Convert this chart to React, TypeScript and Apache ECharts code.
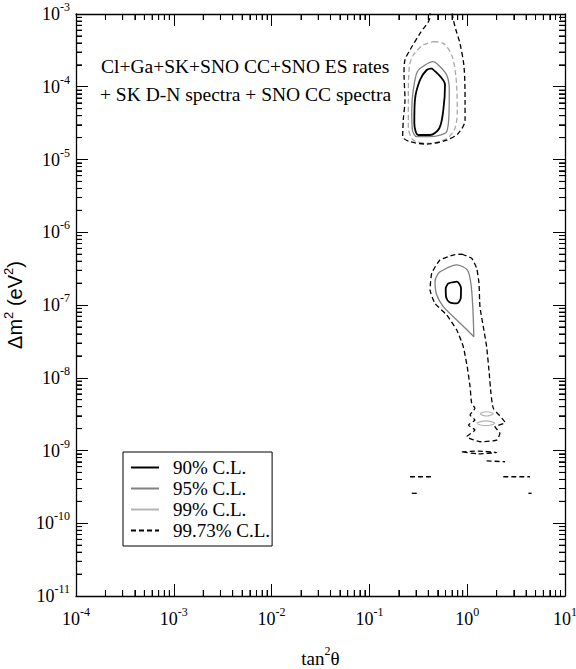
import React, { useEffect, useRef } from "react";
import * as echarts from "echarts";

// axis ranges
const X_MIN = 1e-4;
const X_MAX = 10;
const Y_MIN = 1e-11;
const Y_MAX = 1e-3;
const X_DECADES = [-4, -3, -2, -1, 0];
const Y_DECADES = [-11, -10, -9, -8, -7, -6, -5, -4];

const NAME90 = "90% C.L.";
const NAME95 = "95% C.L.";
const NAME99 = "99% C.L.";
const NAME9973 = "99.73% C.L.";

// contours: [tan^2 theta, dm^2 (eV^2)]
const cl90Upper = [[0.434,1.79e-4],[0.593,1.06e-4],[0.570,4.79e-5],[0.519,2.69e-5],[0.417,2.17e-5],[0.316,2.17e-5],[0.288,3.15e-5],[0.292,6.58e-5],[0.329,1.24e-4],[0.385,1.70e-4],[0.434,1.79e-4]];
const cl95Upper = [[0.371,1.99e-4],[0.444,2.21e-4],[0.507,1.99e-4],[0.617,1.45e-4],[0.656,9.02e-5],[0.652,4.32e-5],[0.617,2.41e-5],[0.527,2.17e-5],[0.417,2.06e-5],[0.305,2.06e-5],[0.275,2.55e-5],[0.271,4.79e-5],[0.281,9.02e-5],[0.309,1.61e-4],[0.371,1.99e-4]];
const cl99UpperDashed = [[0.450,4.16e-4],[0.570,3.95e-4],[0.694,2.73e-4],[0.767,1.37e-4],[0.792,4.79e-5],[0.750,2.69e-5],[0.617,1.95e-5],[0.417,1.67e-5],[0.281,1.85e-5],[0.250,2.82e-5],[0.250,6.58e-5],[0.256,1.89e-4],[0.281,2.73e-4],[0.356,3.75e-4],[0.450,4.16e-4]];
const cl9973Upper = [[0.417,1.13e-3],[0.417,9.18e-4],[0.329,5.43e-4],[0.260,3.20e-4],[0.231,2.33e-4],[0.226,1.53e-4],[0.231,6.58e-5],[0.222,3.49e-5],[0.219,2.06e-5],[0.260,1.76e-5],[0.385,1.63e-5],[0.617,1.85e-5],[0.811,2.29e-5],[0.951,3.49e-5],[0.951,6.58e-5],[0.927,1.89e-4],[0.843,3.95e-4],[0.767,6.03e-4],[0.711,9.18e-4],[0.700,1.13e-3]];

const cl90Lower = [[0.641,1.99e-7],[0.782,2.09e-7],[0.865,1.70e-7],[0.859,1.24e-7],[0.782,1.05e-7],[0.667,1.08e-7],[0.607,1.30e-7],[0.603,1.70e-7],[0.641,1.99e-7]];
const cl95Lower = [[0.570,3.03e-7],[0.782,3.55e-7],[1.00,3.03e-7],[1.09,1.99e-7],[1.14,9.48e-8],[1.17,3.67e-8],[1.00,4.53e-8],[0.782,6.22e-8],[0.570,9.48e-8],[0.488,1.37e-7],[0.469,2.09e-7],[0.507,2.73e-7],[0.570,3.03e-7]];
const cl99LowerA = [[1.35,3.2e-9],[1.45,3.36e-9],[1.58,3.41e-9],[1.72,3.36e-9],[1.85,3.2e-9],[1.72,3.04e-9],[1.58,2.98e-9],[1.45,3.04e-9],[1.35,3.2e-9]];
const cl99LowerB = [[1.25,2.37e-9],[1.37,2.5e-9],[1.55,2.55e-9],[1.75,2.5e-9],[1.91,2.37e-9],[1.75,2.24e-9],[1.55,2.2e-9],[1.37,2.24e-9],[1.25,2.37e-9]];
const cl9973Lower = [[0.879,5.02e-7],[1.11,4.38e-7],[1.25,3.19e-7],[1.32,1.99e-7],[1.35,9.48e-8],[1.46,5.03e-8],[1.58,2.67e-8],[1.68,1.15e-8],[1.75,6.11e-9],[1.85,3.80e-9],[2.44,2.41e-9],[1.92,2.12e-9],[2.16,1.72e-9],[2.00,1.39e-9],[1.35,1.32e-9],[0.99,1.55e-9],[1.20,1.91e-9],[1.03,2.24e-9],[1.20,2.62e-9],[1.07,3.08e-9],[1.20,3.80e-9],[1.11,4.46e-9],[1.07,7.53e-9],[1.00,1.42e-8],[0.912,2.67e-8],[0.782,4.53e-8],[0.617,7.29e-8],[0.469,1.05e-7],[0.417,1.61e-7],[0.434,2.73e-7],[0.527,4.16e-7],[0.721,4.86e-7],[0.879,5.02e-7]];
const cl9973Island1 = [[0.88,9.6e-10],[1.3,9.8e-10],[2.0,9.4e-10],[1.3,9.0e-10],[0.88,9.6e-10]];
const cl9973Island2 = [[1.58,7.2e-10],[2.44,7.0e-10]];
const cl9973Island3 = [[0.26,4.36e-10],[0.434,4.36e-10]];
const cl9973Island4 = [[2.34,4.36e-10],[4.39,4.36e-10]];
const cl9973Island5 = [[0.271,2.58e-10],[0.316,2.58e-10]];
const cl9973Island6 = [[4.22,2.58e-10],[4.56,2.58e-10]];

const ANNOT_LINE1 = "Cl+Ga+SK+SNO CC+SNO ES rates";
const ANNOT_LINE2 = "+ SK D-N spectra + SNO CC spectra";

const SERIF = "Liberation Serif";
const SANS = "Liberation Sans";

const style90 = { color: "#000", width: 1.8, type: "solid" };
const style95 = { color: "#808080", width: 1.3, type: "solid" };
const style99 = { color: "#b4b4b4", width: 1.2, type: "solid" };
const style99d = { color: "#a8a8a8", width: 1.3, type: [5, 3] };
const style9973 = { color: "#000", width: 1.3, type: [5, 3] };

function lineSeries(name: string, data: number[][], ls: any, smooth: number | boolean) {
  return {
    type: "line",
    name,
    data,
    symbol: "none",
    showSymbol: false,
    smooth,
    clip: true,
    lineStyle: ls,
    itemStyle: { color: ls.color },
    color: ls.color,
    silent: true,
    z: 3,
  };
}

function minorTicks(decades: number[]) {
  const out: number[] = [];
  decades.forEach((e) => {
    for (let k = 2; k <= 9; k++) out.push(k * Math.pow(10, e));
  });
  return out;
}
const X_MINOR = minorTicks(X_DECADES);
const Y_MINOR = minorTicks(Y_DECADES);

const expLabel = (v: number) => `{b|10}{s|${Math.round(Math.log10(v))}}`;
const labelRich = {
  b: { fontSize: 18, fontFamily: SERIF, color: "#000" },
  s: { fontSize: 12, fontFamily: SERIF, color: "#000", padding: [0, 0, 14, 0] },
};

const MINOR_LEN = 6;
const MAJOR_LEN = 12;

function logAxis(min: number, max: number, split: number, extra: any) {
  return {
    type: "log",
    logBase: 10,
    min,
    max,
    splitNumber: split,
    axisLine: { show: true, lineStyle: { color: "#000", width: 1.3 } },
    axisTick: { show: true, inside: true, length: MAJOR_LEN, lineStyle: { color: "#000", width: 1 } },
    splitLine: { show: false },
    ...extra,
  };
}

function minorAxis(min: number, max: number, split: number, position: string, values: number[]) {
  return logAxis(min, max, split, {
    position,
    axisLine: { show: false },
    axisLabel: { show: false },
    axisTick: { show: true, inside: true, length: MINOR_LEN, customValues: values, lineStyle: { color: "#000", width: 1 } },
  });
}

export default function App() {
  const ref = useRef<HTMLDivElement>(null);
  useEffect(() => {
    if (!ref.current) return;
    const chart = echarts.init(ref.current, undefined, { renderer: "svg" });
    const textGraphics = [
      { type: "text", x: 101, y: 66, style: { text: ANNOT_LINE1, font: `19.5px "${SERIF}"`, fill: "#000", verticalAlign: "middle" } },
      { type: "text", x: 100, y: 94, style: { text: ANNOT_LINE2, font: `19.5px "${SERIF}"`, fill: "#000", verticalAlign: "middle" } },
    ];

    const option: any = {
      animation: false,
      backgroundColor: "#fff",
      grid: { left: 76, right: 11, top: 14, bottom: 73, containLabel: false, outerBoundsMode: "none" },
      xAxis: [
        logAxis(X_MIN, X_MAX, 5, {
          position: "bottom",
          axisLabel: { formatter: expLabel, rich: labelRich, fontFamily: SERIF, fontSize: 18, color: "#000", margin: 10, showMinLabel: true, showMaxLabel: true },
          name: "{a|tan}{s|2}{a|θ}",
          nameLocation: "middle",
          nameGap: 49,
          nameTextStyle: {
            fontFamily: SERIF,
            fontSize: 19,
            rich: {
              a: { fontSize: 19, fontFamily: SERIF, color: "#000" },
              s: { fontSize: 12, fontFamily: SERIF, color: "#000", padding: [0, 0, 14, 0] },
            },
          },
        }),
        logAxis(X_MIN, X_MAX, 5, { position: "top", axisLabel: { show: false } }),
        minorAxis(X_MIN, X_MAX, 5, "bottom", X_MINOR),
        minorAxis(X_MIN, X_MAX, 5, "top", X_MINOR),
      ],
      yAxis: [
        logAxis(Y_MIN, Y_MAX, 8, {
          position: "left",
          axisLabel: { formatter: expLabel, rich: labelRich, fontFamily: SERIF, fontSize: 18, color: "#000", margin: 6, showMinLabel: true, showMaxLabel: true },
          name: "{a|Δm}{s|2}{a| (eV}{s|2}{a|)}",
          nameLocation: "middle",
          nameRotate: 90,
          nameGap: 42,
          nameTextStyle: {
            fontFamily: SANS,
            fontSize: 20,
            rich: {
              a: { fontSize: 20, fontFamily: SANS, color: "#000" },
              s: { fontSize: 13, fontFamily: SANS, color: "#000", padding: [0, 0, 14, 0] },
            },
          },
        }),
        logAxis(Y_MIN, Y_MAX, 8, { position: "right", axisLabel: { show: false } }),
        minorAxis(Y_MIN, Y_MAX, 8, "left", Y_MINOR),
        minorAxis(Y_MIN, Y_MAX, 8, "right", Y_MINOR),
      ],
      legend: {
        show: true,
        data: [NAME90, NAME95, NAME99, NAME9973],
        orient: "vertical",
        left: 123,
        top: 452,
        itemWidth: 28,
        itemHeight: 14,
        itemGap: 2,
        padding: [6, 2, 6, 7],
        borderColor: "#000",
        borderWidth: 1,
        selectedMode: false,
        itemStyle: { opacity: 0 },
        textStyle: { fontSize: 19, fontFamily: SERIF, color: "#000", lineHeight: 19, padding: [0, 0, 0, 9] },
      },
      graphic: { elements: textGraphics },
      series: [
        lineSeries(NAME90, cl90Upper, style90, 0.3),
        lineSeries(NAME90, cl90Lower, style90, 0.3),
        lineSeries(NAME95, cl95Upper, style95, 0.3),
        lineSeries(NAME95, cl95Lower, style95, 0.3),
        lineSeries(NAME99, cl99LowerA, style99, 0.3),
        lineSeries(NAME99, cl99LowerB, style99, 0.3),
        lineSeries(NAME99, cl99UpperDashed, style99d, 0.3),
        lineSeries(NAME9973, cl9973Upper, style9973, 0.3),
        lineSeries(NAME9973, cl9973Lower, style9973, 0.15),
        lineSeries(NAME9973, cl9973Island1, style9973, 0.2),
        lineSeries(NAME9973, cl9973Island2, style9973, false),
        lineSeries(NAME9973, cl9973Island3, style9973, false),
        lineSeries(NAME9973, cl9973Island4, style9973, false),
        lineSeries(NAME9973, cl9973Island5, style9973, false),
        lineSeries(NAME9973, cl9973Island6, style9973, false),
      ],
    };
    chart.setOption(option);

    // log-spaced minor ticks also placed through the chart's own axis scales (overlaps the axis ticks)
    try {
      const finder = { xAxisIndex: 0, yAxisIndex: 0 };
      const tickLines: any[] = [];
      const st = () => ({ stroke: "#000", lineWidth: 1 });
      X_MINOR.forEach((v) => {
        const b = chart.convertToPixel(finder, [v, Y_MIN]) as number[];
        const t = chart.convertToPixel(finder, [v, Y_MAX]) as number[];
        if (!b || !t) return;
        tickLines.push({ type: "line", shape: { x1: b[0], y1: b[1], x2: b[0], y2: b[1] - MINOR_LEN }, style: st() });
        tickLines.push({ type: "line", shape: { x1: t[0], y1: t[1], x2: t[0], y2: t[1] + MINOR_LEN }, style: st() });
      });
      Y_MINOR.forEach((v) => {
        const l = chart.convertToPixel(finder, [X_MIN, v]) as number[];
        const r = chart.convertToPixel(finder, [X_MAX, v]) as number[];
        if (!l || !r) return;
        tickLines.push({ type: "line", shape: { x1: l[0], y1: l[1], x2: l[0] + MINOR_LEN, y2: l[1] }, style: st() });
        tickLines.push({ type: "line", shape: { x1: r[0], y1: r[1], x2: r[0] - MINOR_LEN, y2: r[1] }, style: st() });
      });
      chart.setOption({ graphic: { elements: [...textGraphics, ...tickLines] } });
    } catch (e) {
      // keep the chart as drawn
    }

    return () => chart.dispose();
  }, []);
  return <div ref={ref} style={{ position: "absolute", left: 0, top: 0, width: 576, height: 669 }} />;
}
